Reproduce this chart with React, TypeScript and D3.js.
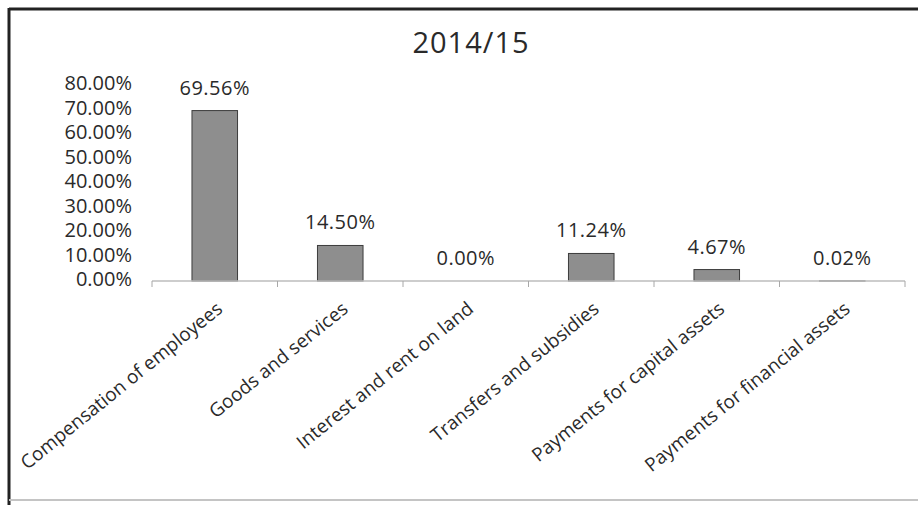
import React from "react";
import * as d3 from "d3";

const title = "2014/15";
const categories = [
  "Compensation of employees",
  "Goods and services",
  "Interest and rent on land",
  "Transfers and subsidies",
  "Payments for capital assets",
  "Payments for financial assets",
];
const values = [0.6956, 0.145, 0.0, 0.1124, 0.0467, 0.0002];
const yTicks = [0, 0.1, 0.2, 0.3, 0.4, 0.5, 0.6, 0.7, 0.8];

const W = 918;
const H = 505;
const FONT = "'Open Sans', 'DejaVu Sans', sans-serif";

export default function App() {
  const x = d3
    .scaleBand<string>()
    .domain(categories)
    .range([152, 905])
    .paddingInner(0.637)
    .paddingOuter(0.3185);
  const y = d3.scaleLinear().domain([0, 0.8]).range([281, 85]);
  const fmt = d3.format(".2%");
  const step = x.step();
  const boundaries = d3.range(categories.length + 1).map((i) => 152 + i * step);

  return (
    <svg
      width={W}
      height={H}
      style={{ position: "absolute", left: 0, top: 0, background: "#fff" }}
      fontFamily={FONT}
    >
      <rect x={0} y={0} width={W} height={H} fill="#fff" />
      {/* frame */}
      <line x1={9} y1={9} x2={W} y2={9} stroke="#222" strokeWidth={3} />
      <line x1={9} y1={8} x2={9} y2={H} stroke="#222" strokeWidth={3} />
      <line x1={9} y1={500} x2={W} y2={500} stroke="#c4c4c4" strokeWidth={2} />

      {/* title */}
      <text x={471} y={53} textAnchor="middle" fontSize={29} letterSpacing={1} fill="#2a2a2a">
        {title}
      </text>

      {/* y tick labels */}
      {yTicks.map((t) => (
        <text key={t} x={132} y={y(t) - 2} dy="0.35em" textAnchor="end" fontSize={20} fill="#2a2a2a">
          {fmt(t)}
        </text>
      ))}

      {/* bars */}
      {categories.map((c, i) => (
        <rect
          key={c}
          x={x(c)}
          y={y(values[i])}
          width={x.bandwidth()}
          height={y(0) - y(values[i])}
          fill="#8e8e8e"
          stroke="#3c3c3c"
          strokeWidth={1}
        />
      ))}

      {/* axis */}
      <line x1={152} y1={y(0)} x2={905} y2={y(0)} stroke="#bdbdbd" strokeWidth={1.5} />
      {boundaries.map((b, i) => (
        <line key={i} x1={b} y1={y(0)} x2={b} y2={y(0) + 6} stroke="#a8a8a8" strokeWidth={1} />
      ))}

      {/* data labels */}
      {categories.map((c, i) => (
        <text
          key={c}
          x={(x(c) as number) + x.bandwidth() / 2}
          y={y(values[i]) - 16}
          textAnchor="middle"
          fontSize={20}
          letterSpacing={0.5}
          fill="#2a2a2a"
        >
          {fmt(values[i])}
        </text>
      ))}

      {/* category labels */}
      {categories.map((c) => {
        const cx = (x(c) as number) + x.bandwidth() / 2 + 9;
        const cy = 311;
        return (
          <text
            key={c}
            x={cx}
            y={cy}
            textAnchor="end"
            fontSize={19}
            fill="#2a2a2a"
            transform={`rotate(-39, ${cx}, ${cy})`}
          >
            {c}
          </text>
        );
      })}
    </svg>
  );
}
